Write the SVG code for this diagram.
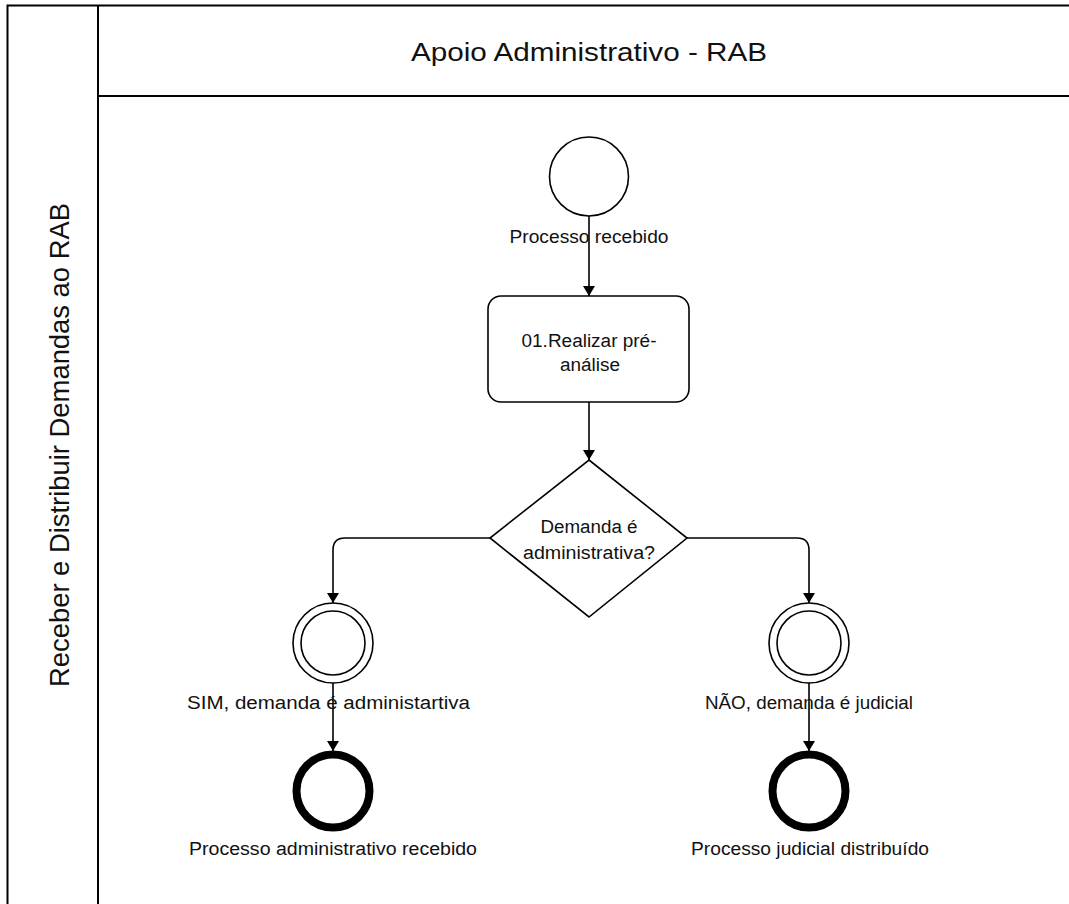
<svg xmlns="http://www.w3.org/2000/svg" width="1069" height="904" viewBox="0 0 1069 904">
  <style>
    .frame { fill: none; stroke: #000; stroke-width: 2; }
    .shape { fill: #fff; stroke: #000; stroke-width: 1.6; }
    .endev { fill: #fff; stroke: #000; stroke-width: 8; }
    .flow { fill: none; stroke: #000; stroke-width: 1.6; marker-end: url(#arrow); }
    text { font-family: "Liberation Sans", Arial, sans-serif; fill: #111; text-anchor: middle; }
    .lbl { font-size: 18px; }
    .title { font-size: 26px; }
    .lane { font-size: 27px; }
  </style>
  <defs>
    <marker id="arrow" viewBox="0 0 10 12" refX="10" refY="6" markerWidth="10" markerHeight="12" markerUnits="userSpaceOnUse" orient="auto">
      <path d="M0,0 L10,6 L0,12 Z" fill="#000"/>
    </marker>
  </defs>

  <rect width="1069" height="904" fill="#fff"/>

  <!-- pool and lane frame -->
  <g id="pool">
    <rect class="frame" x="7.5" y="5.5" width="1080" height="920"/>
    <line class="frame" x1="98" y1="5.5" x2="98" y2="910"/>
    <line class="frame" x1="98" y1="96" x2="1080" y2="96"/>
    <text class="title" x="589" y="61" textLength="356" lengthAdjust="spacingAndGlyphs">Apoio Administrativo -  RAB</text>
    <text class="lane" transform="translate(69,445) rotate(-90)" textLength="484" lengthAdjust="spacingAndGlyphs">Receber e Distribuir Demandas ao RAB</text>
  </g>

  <!-- connectors -->
  <g id="connectors">
    <line class="flow" x1="589" y1="216" x2="589" y2="296"/>
    <line class="flow" x1="589" y1="402" x2="589" y2="460"/>
    <path class="flow" d="M490,538 H345 Q333,538 333,550 V603"/>
    <path class="flow" d="M687,538 H797 Q809,538 809,550 V603"/>
    <line class="flow" x1="333" y1="683" x2="333" y2="751"/>
    <line class="flow" x1="809" y1="683" x2="809" y2="751"/>
  </g>

  <!-- start event -->
  <g id="start">
    <circle class="shape" cx="589" cy="176.5" r="39.5"/>
    <text class="lbl" x="589" y="243" textLength="159" lengthAdjust="spacingAndGlyphs">Processo recebido</text>
  </g>

  <!-- task -->
  <g id="task01">
    <rect class="shape" x="488" y="296" width="201" height="106" rx="13" ry="13"/>
    <text class="lbl" x="589" y="347" textLength="135" lengthAdjust="spacingAndGlyphs">01.Realizar pré-</text>
    <text class="lbl" x="590" y="371" textLength="60" lengthAdjust="spacingAndGlyphs">análise</text>
  </g>

  <!-- gateway -->
  <g id="gateway">
    <polygon class="shape" points="589,460 687,538 589,617 490,538"/>
    <text class="lbl" x="589" y="533" textLength="97" lengthAdjust="spacingAndGlyphs">Demanda é</text>
    <text class="lbl" x="589" y="559" textLength="132" lengthAdjust="spacingAndGlyphs">administrativa?</text>
  </g>

  <!-- intermediate event: administrative -->
  <g id="sim">
    <circle class="shape" cx="333" cy="643" r="40"/>
    <circle class="shape" cx="333" cy="643" r="32"/>
    <text class="lbl" x="328.5" y="709" textLength="283" lengthAdjust="spacingAndGlyphs">SIM, demanda é administartiva</text>
  </g>

  <!-- intermediate event: judicial -->
  <g id="nao">
    <circle class="shape" cx="809" cy="643" r="40"/>
    <circle class="shape" cx="809" cy="643" r="32"/>
    <text class="lbl" x="809" y="709" textLength="208" lengthAdjust="spacingAndGlyphs">NÃO, demanda é judicial</text>
  </g>

  <!-- end events -->
  <g id="end-adm">
    <circle class="endev" cx="333" cy="791" r="36.5"/>
    <text class="lbl" x="333" y="855" textLength="288" lengthAdjust="spacingAndGlyphs">Processo administrativo recebido</text>
  </g>
  <g id="end-jud">
    <circle class="endev" cx="809" cy="791" r="36.5"/>
    <text class="lbl" x="810" y="855" textLength="238" lengthAdjust="spacingAndGlyphs">Processo judicial distribuído</text>
  </g>
</svg>
